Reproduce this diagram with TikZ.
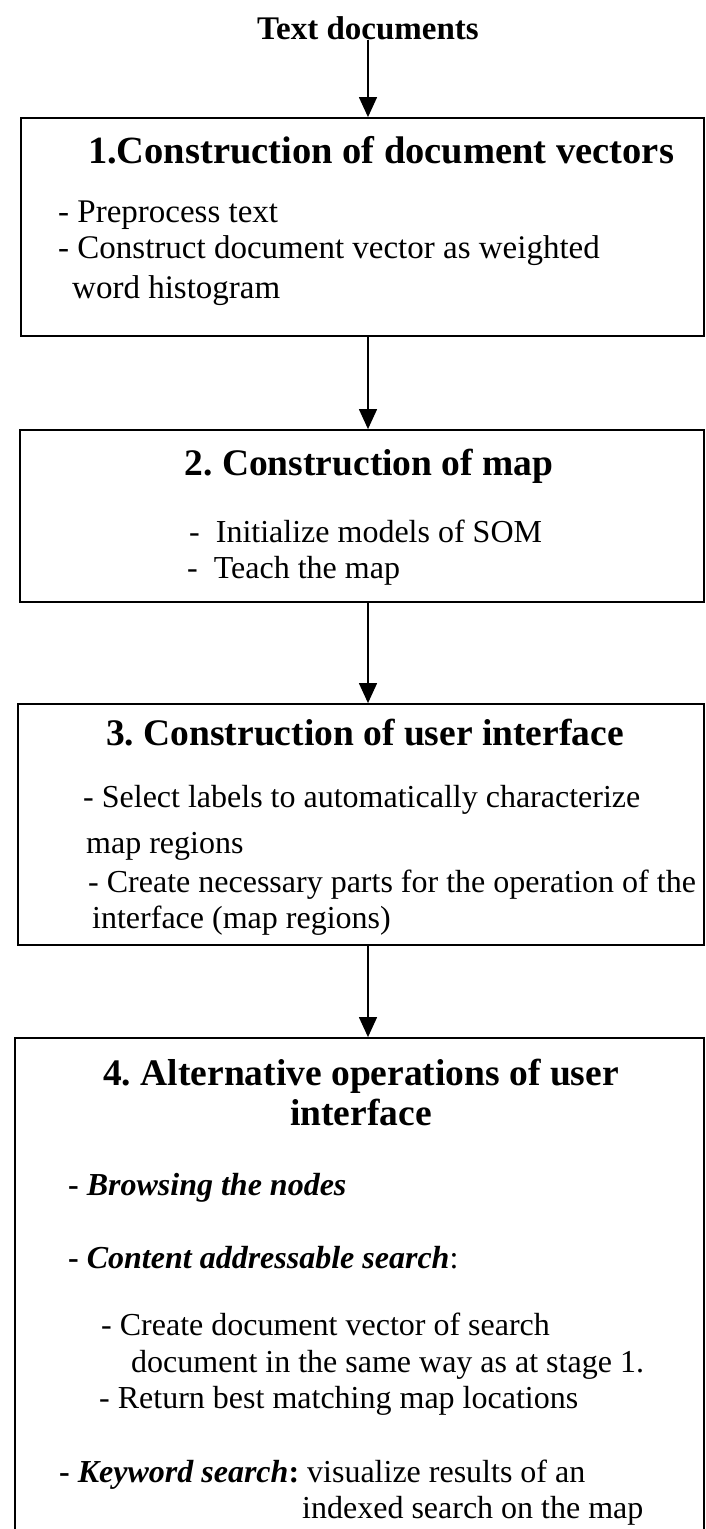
\documentclass[tikz,border=0pt]{standalone}
\usepackage{fontspec}
\setmainfont{Liberation Serif}
\usetikzlibrary{arrows.meta}
\frenchspacing

\begin{document}
\begin{tikzpicture}[
        x=1pt, y=-1pt,
        stage/.style={draw, line width=1.8pt, inner sep=0pt},
        heading/.style={anchor=base, inner sep=0pt, align=center,
                font=\fontsize{37.5}{40}\selectfont\bfseries},
        item/.style={anchor=base west, inner sep=0pt,
                font=\fontsize{32}{38}\selectfont},
        flow/.style={-{Triangle[length=20pt, width=18pt]}, line width=1.3pt},
    ]
    \useasboundingbox (0,0) rectangle (706,1529);
    \clip (0,0) rectangle (706,1529);

    % input and the four stages
    \node[heading, font=\fontsize{33}{38}\selectfont\bfseries] (docs) at (368,39) {Text documents};
    \node[stage, minimum width=683pt, minimum height=218pt] (box_vectors) at (362.5,227) {};
    \node[stage, minimum width=684pt, minimum height=172pt] (box_map) at (362,516) {};
    \node[stage, minimum width=686pt, minimum height=241pt] (box_ui) at (361,824.5) {};
    \node[stage, minimum width=689pt, minimum height=562pt] (box_ops) at (359.5,1319) {};

    % stage 1
    \node[heading, font=\fontsize{38.5}{40}\selectfont\bfseries] (title_vectors) at (381,163) {1.Construction of document vectors};
    \node[item, font=\fontsize{33}{38}\selectfont] (item_prep) at (58,222) {- Preprocess text};
    \node[item, font=\fontsize{33}{38}\selectfont] (item_vec) at (58,258) {- Construct document vector as weighted};
    \node[item, font=\fontsize{33}{38}\selectfont] (item_vec_b) at (72,298) {word histogram};

    % stage 2
    \node[heading] (title_map) at (369,475) {2. Construction of map};
    \node[item] (item_init) at (189,542) {-\ \ Initialize models of SOM};
    \node[item] (item_teach) at (187,578) {-\ \ Teach the map};

    % stage 3
    \node[heading] (title_ui) at (365,745) {3. Construction of user interface};
    \node[item] (item_labels) at (83,807) {- Select labels to automatically characterize};
    \node[item] (item_labels_b) at (86,853) {map regions};
    \node[item] (item_parts) at (88,892) {- Create necessary parts for the operation of the};
    \node[item] (item_parts_b) at (92,928) {interface (map regions)};

    % stage 4
    \node[heading] (title_ops) at (361,1125) {4. Alternative operations of user\\interface};
    \node[item] (item_browse) at (68,1195) {\textbf{- \textit{Browsing the nodes}}};
    \node[item] (item_content) at (68,1268) {\textbf{- \textit{Content addressable search}}:};
    \node[item] (item_search) at (101,1335) {- Create document vector of search};
    \node[item] (item_search_b) at (131,1372) {document in the same way as at stage 1.};
    \node[item] (item_return) at (99,1408) {- Return best matching map locations};
    \node[item] (item_keyword) at (59,1482) {\textbf{- \textit{Keyword search}:} visualize results of an};
    \node[item] (item_keyword_b) at (302,1518) {indexed search on the map};

    \draw[flow] (docs.south) -- (docs.south |- box_vectors.north);
    \draw[flow] (box_vectors.south -| docs.south) -- (box_map.north -| docs.south);
    \draw[flow] (box_map.south -| docs.south) -- (box_ui.north -| docs.south);
    \draw[flow] (box_ui.south -| docs.south) -- (box_ops.north -| docs.south);
\end{tikzpicture}
\end{document}
